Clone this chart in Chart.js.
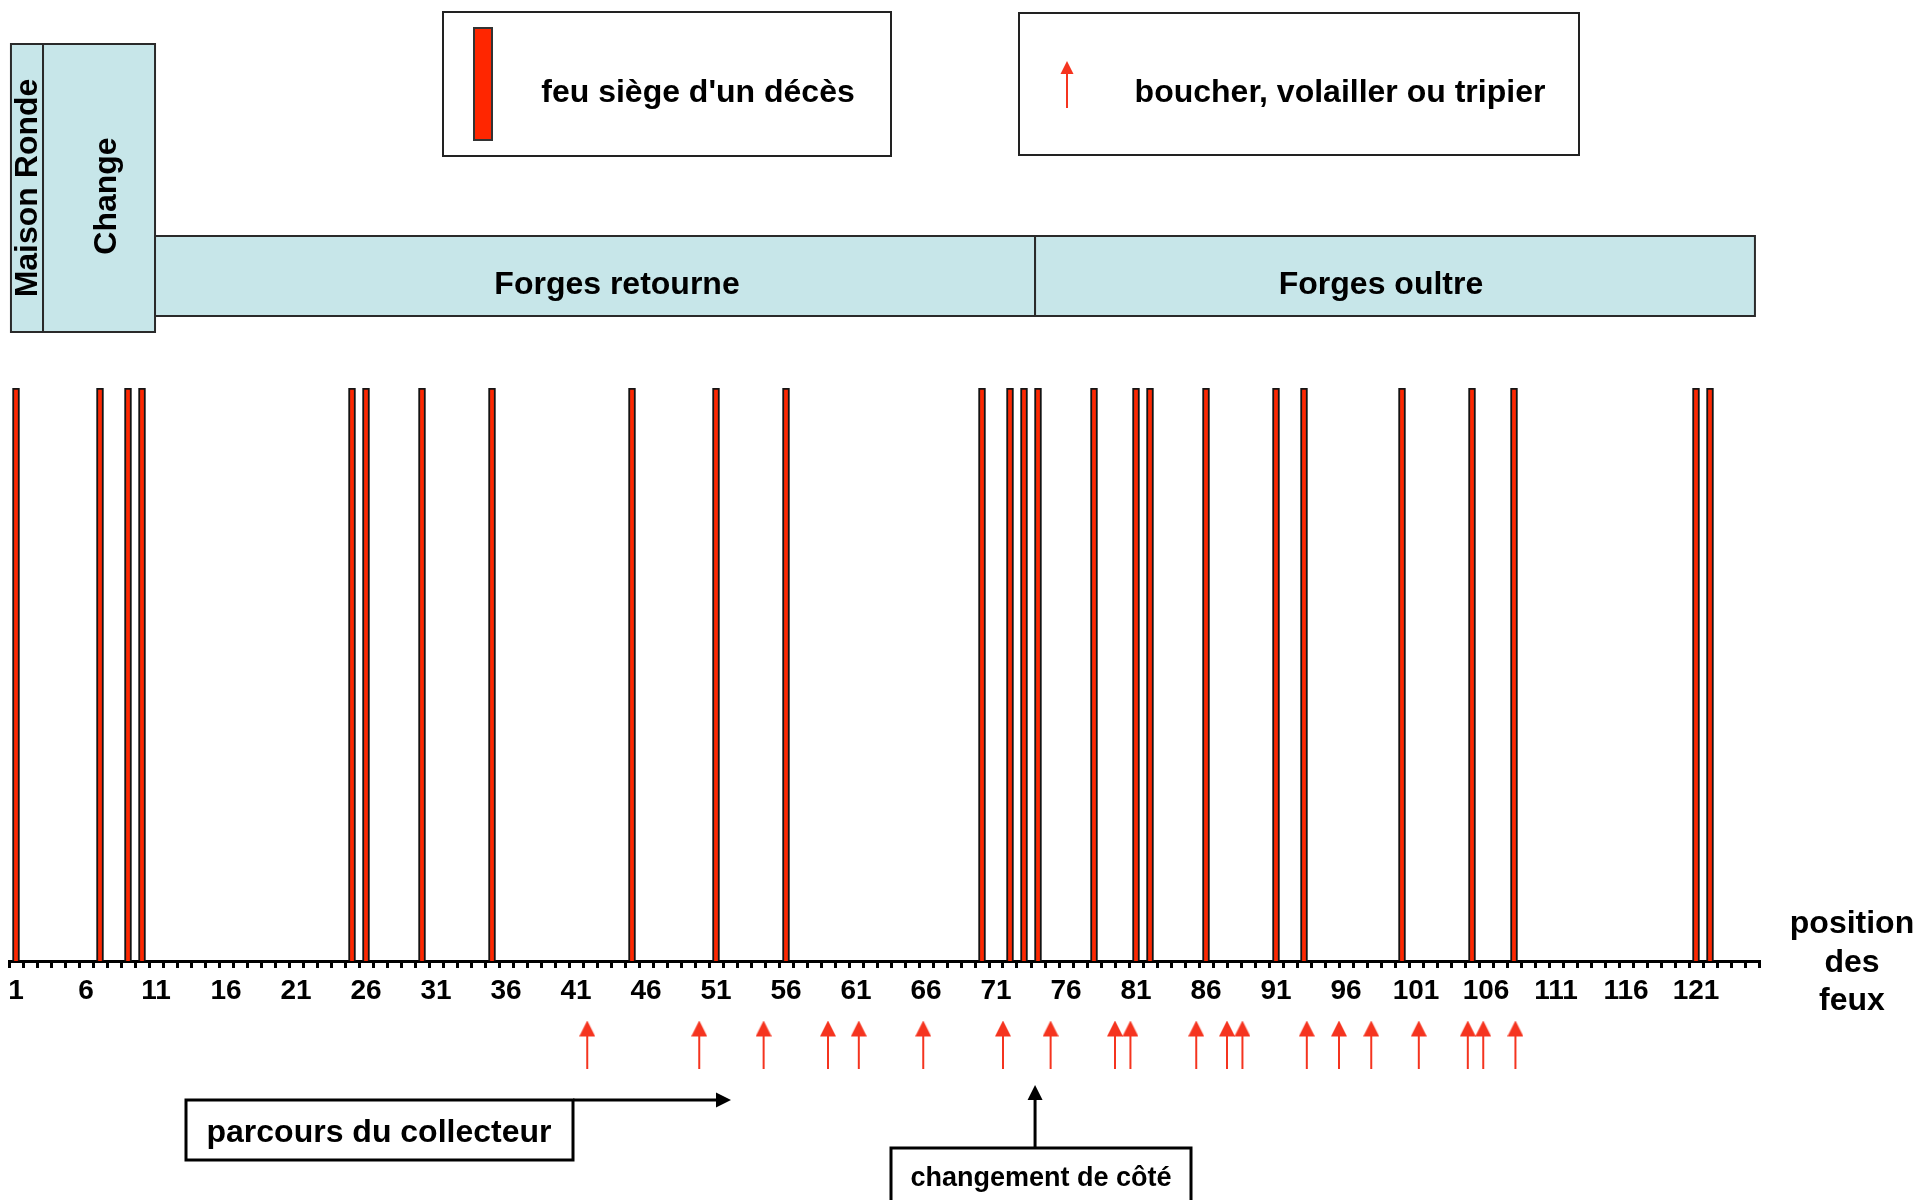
<!DOCTYPE html>
<html>
<head>
<meta charset="utf-8">
<script src="https://cdn.jsdelivr.net/npm/chart.js@4.4.1/dist/chart.umd.min.js"></script>
<style>
html,body{margin:0;padding:0;background:#fff;overflow:hidden}
#wrap{position:relative;width:1918px;height:1200px}
</style>
</head>
<body>
<div id="wrap"><canvas id="c" width="1918" height="1200"></canvas></div>
<script>
// ---------- DATA ----------
const POSITION_COUNT = 125;                       // positions des feux 1..125
const tickLabels = ['1','6','11','16','21','26','31','36','41','46','51','56','61','66','71','76','81','86','91','96','101','106','111','116','121'];
// feux siège d'un décès
const deathPositions = [1,7,9,10,25,26,30,35,45,51,56,70,72,73,74,78,81,82,86,91,93,100,105,108,121,122];
// boucher, volailler ou tripier (positions)
const butcherPositions = [41.8,49.8,54.4,59.0,61.2,65.8,71.5,74.9,79.5,80.6,85.3,87.5,88.6,93.2,95.5,97.8,101.2,104.7,105.8,108.1];
// streets (extent in positions)
const streetNames  = ['Maison Ronde','Change','Forges retourne','Forges oultre'];
const streetStarts = [0.64, 2.93, 10.93, 73.79];
const streetEnds   = [2.93, 10.93, 73.79, 125.21];
const streetLabelAt = [1.79, 7.43, 43.93, 98.5];
const sideChangeAt = 73.79;

// ---------- LAYOUT / STYLE CONSTANTS ----------
const FONT = '"Liberation Sans", Arial, Helvetica, sans-serif';
const RED = '#ff2600';
const ARROW_RED = '#f5341f';
const STREET_FILL = '#c7e6e9';
const PAD_TOP = 388, PAD_BOTTOM = 20;
const AXIS_PX = 961;         // pixel row of the x axis line
const UNIT_PX = AXIS_PX - PAD_TOP;
const Y_MIN = -((1200 - PAD_BOTTOM) - AXIS_PX) / UNIT_PX;   // room below the axis
const ARROW_LEVEL = -(1044.5 - AXIS_PX) / UNIT_PX;           // vertical placement of arrows

Chart.defaults.font.family = FONT;

const categories = [];
for (let i = 1; i <= POSITION_COUNT; i++) categories.push(String(i));
const deathData = categories.map(c => deathPositions.includes(Number(c)) ? 1 : null);
const butcherData = butcherPositions.map(p => ({x: p, y: ARROW_LEVEL}));

// arrow glyph used as point style
function makeArrow(w, h, head, color) {
  const cv = document.createElement('canvas');
  cv.width = w; cv.height = h;
  const g = cv.getContext('2d');
  g.fillStyle = color;
  g.beginPath();
  g.moveTo(w/2, 0); g.lineTo(w, head); g.lineTo(0, head); g.closePath(); g.fill();
  g.fillRect(w/2 - 1, head - 1, 2, h - head + 1);
  return cv;
}
const arrowImg = makeArrow(16, 48, 16, ARROW_RED);

function arrowLine(ctx, x1, y1, x2, y2, head, color, lw) {
  ctx.save();
  ctx.strokeStyle = color; ctx.fillStyle = color; ctx.lineWidth = lw;
  const ang = Math.atan2(y2 - y1, x2 - x1);
  const bx = x2 - head * Math.cos(ang), by = y2 - head * Math.sin(ang);
  ctx.beginPath(); ctx.moveTo(x1, y1); ctx.lineTo(bx, by); ctx.stroke();
  ctx.beginPath();
  ctx.moveTo(x2, y2);
  ctx.lineTo(bx + head/2 * Math.sin(ang), by - head/2 * Math.cos(ang));
  ctx.lineTo(bx - head/2 * Math.sin(ang), by + head/2 * Math.cos(ang));
  ctx.closePath(); ctx.fill();
  ctx.restore();
}

const annotations = {
  id: 'annotations',
  afterDraw(chart) {
    const ctx = chart.ctx;
    const xs = chart.scales.x2;
    ctx.save();
    // streets
    streetNames.forEach((name, i) => {
      const x1 = xs.getPixelForValue(streetStarts[i]);
      const x2 = xs.getPixelForValue(streetEnds[i]);
      const vertical = i < 2;
      const top = vertical ? 44 : 236, bottom = vertical ? 332 : 316;
      ctx.fillStyle = STREET_FILL;
      ctx.fillRect(x1, top, x2 - x1, bottom - top);
      ctx.strokeStyle = '#2a2a2a'; ctx.lineWidth = 2;
      ctx.strokeRect(x1, top, x2 - x1, bottom - top);
      ctx.fillStyle = '#000';
      ctx.font = 'bold 32px ' + FONT;
      ctx.textAlign = 'center'; ctx.textBaseline = 'alphabetic';
      const lx = xs.getPixelForValue(streetLabelAt[i]);
      if (vertical) {
        ctx.save();
        ctx.translate(lx + 10, i === 0 ? 188 : 196);
        ctx.rotate(-Math.PI / 2);
        ctx.fillText(name, 0, 0);
        ctx.restore();
      } else {
        ctx.fillText(name, lx, 294);
      }
    });

    // legend 1
    ctx.strokeStyle = '#222'; ctx.lineWidth = 2;
    ctx.strokeRect(443, 12, 448, 144);
    ctx.fillStyle = RED; ctx.fillRect(474, 28, 18, 112);
    ctx.strokeStyle = '#333'; ctx.lineWidth = 2; ctx.strokeRect(474, 28, 18, 112);
    ctx.fillStyle = '#000'; ctx.font = 'bold 32px ' + FONT;
    ctx.textAlign = 'center'; ctx.textBaseline = 'alphabetic';
    ctx.fillText("feu siège d'un décès", 698, 102);
    // legend 2
    ctx.strokeStyle = '#222'; ctx.lineWidth = 2;
    ctx.strokeRect(1019, 13, 560, 142);
    arrowLine(ctx, 1067, 108, 1067, 61, 13, ARROW_RED, 2);
    ctx.fillStyle = '#000';
    ctx.fillText('boucher, volailler ou tripier', 1340, 102);

    // parcours du collecteur
    ctx.strokeStyle = '#000'; ctx.lineWidth = 3;
    ctx.strokeRect(186, 1100, 387, 60);
    arrowLine(ctx, 573, 1100, 731, 1100, 15, '#000', 3);
    ctx.fillStyle = '#000';
    ctx.fillText('parcours du collecteur', 379, 1142);

    // changement de côté
    const sx = xs.getPixelForValue(sideChangeAt);
    ctx.strokeStyle = '#000'; ctx.lineWidth = 3;
    ctx.strokeRect(891, 1148, 300, 70);
    arrowLine(ctx, sx, 1148, sx, 1085, 15, '#000', 3);
    ctx.fillStyle = '#000'; ctx.font = 'bold 27px ' + FONT;
    ctx.fillText('changement de côté', 1041, 1186);

    // axis title
    ctx.font = 'bold 32px ' + FONT;
    ctx.fillText('position', 1852, 933);
    ctx.fillText('des', 1852, 972);
    ctx.fillText('feux', 1852, 1010);
    ctx.restore();
  }
};

new Chart(document.getElementById('c'), {
  type: 'bar',
  data: {
    labels: categories,
    datasets: [
      {
        type: 'bar',
        label: "feu siège d'un décès",
        data: deathData,
        xAxisID: 'x', yAxisID: 'y',
        backgroundColor: RED,
        borderColor: '#141414',
        borderWidth: 2,
        grouped: false,
        barThickness: 7,
        maxBarThickness: 7
      },
      {
        type: 'scatter',
        label: 'boucher, volailler ou tripier',
        data: butcherData,
        xAxisID: 'x2', yAxisID: 'y',
        pointStyle: arrowImg,
        pointRadius: 8,
        showLine: false
      }
    ]
  },
  options: {
    responsive: false,
    animation: false,
    events: [],
    layout: { padding: { top: PAD_TOP, left: 9, right: 159, bottom: PAD_BOTTOM } },
    plugins: { legend: { display: false }, tooltip: { enabled: false } },
    scales: {
      x: {
        axis: 'x',
        type: 'category',
        position: { y: 0 },
        offset: true,
        grid: { offset: true, drawOnChartArea: false, drawTicks: true, tickLength: 5, color: '#000', lineWidth: 3 },
        border: { display: true, color: '#000', width: 3 },
        ticks: {
          autoSkip: false, maxRotation: 0, minRotation: 0, padding: 8,
          color: '#000', font: { size: 28, weight: 'bold' },
          callback: function (value) {
            const lab = this.getLabelForValue(value);
            return tickLabels.includes(lab) ? lab : '';
          }
        }
      },
      x2: { axis: 'x', type: 'linear', display: false, offset: false, grid: { offset: false }, min: 0.5, max: POSITION_COUNT + 0.5 },
      y: { display: false, min: Y_MIN, max: 1 }
    }
  },
  plugins: [annotations]
});
</script>
</body>
</html>
